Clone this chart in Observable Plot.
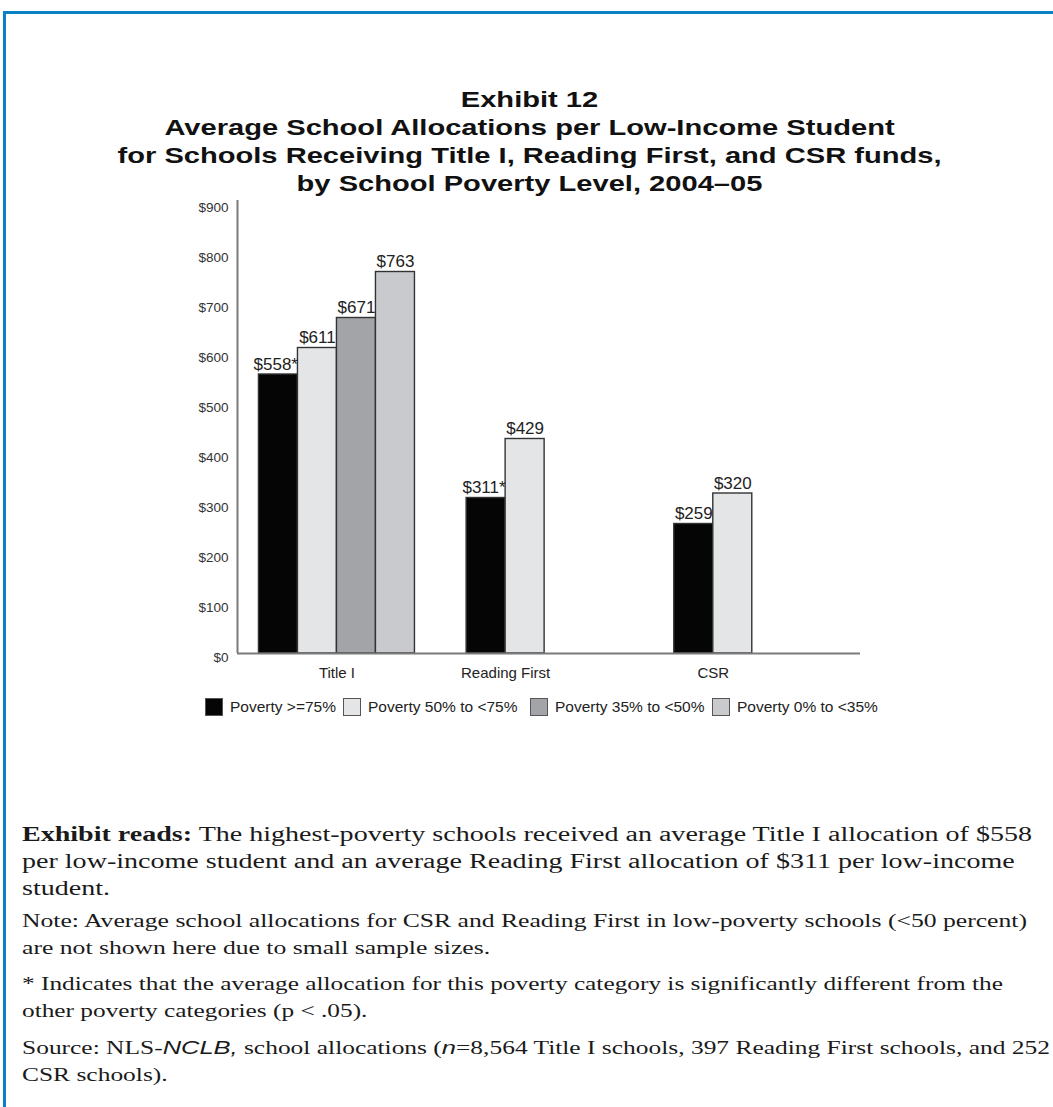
<!DOCTYPE html>
<html>
<head>
<meta charset="utf-8">
<script src="https://cdn.jsdelivr.net/npm/d3@7"></script>
<script src="https://cdn.jsdelivr.net/npm/@observablehq/plot@0.6"></script>
<style>
  html, body { margin: 0; padding: 0; background: #fff; }
  body { width: 1053px; height: 1107px; position: relative; overflow: hidden; font-family: "Liberation Sans", Arial, sans-serif; }
  #frame { position: absolute; left: 3px; top: 11px; right: 0; bottom: 0; border-top: 3px solid #0a80c6; border-left: 3px solid #0a80c6; }
  #title { position: absolute; left: 6px; width: 1047px; top: 86px; text-align: center; font-weight: bold; font-size: 22px; line-height: 28px; color: #111; }
  #title span { display: inline-block; white-space: nowrap; transform-origin: 50% 0; }
  #chart { position: absolute; left: 0; top: 180px; }
  #legend { position: absolute; top: 698px; left: 0; height: 18px; font-size: 15.5px; color: #222; }
  #legend .item { position: absolute; top: 0; display: flex; align-items: center; white-space: nowrap; height: 18px; }
  #legend .sw { width: 16px; height: 16px; border: 1px solid #555; margin-right: 7px; box-sizing: content-box; }
  .para { position: absolute; left: 22px; color: #1a1a1a; font-family: "Liberation Serif", "Times New Roman", serif; line-height: 27px; }
  .para span.inner { display: inline-block; white-space: nowrap; transform-origin: 0 0; }
  .sans-i { font-family: "Liberation Sans", Arial, sans-serif; font-style: italic; }
</style>
</head>
<body>
<div id="frame"></div>
<div id="title"><span id="titleInner">Exhibit 12<br>Average School Allocations per Low-Income Student<br>for Schools Receiving Title I, Reading First, and CSR funds,<br>by School Poverty Level, 2004–05</span></div>
<div id="chart"></div>
<div id="legend"></div>
<div class="para" id="p1" style="top:821px;font-size:20px;"><span class="inner"><b>Exhibit reads:</b> The highest-poverty schools received an average Title I allocation of $558<br>per low-income student and an average Reading First allocation of $311 per low-income<br>student.</span></div>
<div class="para" id="p2" style="top:908px;font-size:18.5px;"><span class="inner">Note: Average school allocations for CSR and Reading First in low-poverty schools (&lt;50 percent)<br>are not shown here due to small sample sizes.</span></div>
<div class="para" id="p3" style="top:971px;font-size:18.5px;"><span class="inner">* Indicates that the average allocation for this poverty category is significantly different from the<br>other poverty categories (p &lt; .05).</span></div>
<div class="para" id="p4" style="top:1034px;font-size:18.5px;"><span class="inner">Source: NLS-<span class="sans-i">NCLB,</span> school allocations (<span class="sans-i">n</span>=8,564 Title I schools, 397 Reading First schools, and 252<br>CSR schools).</span></div>
<script>
// ---- data ----
const programs = ["Title I", "Reading First", "CSR"];
const povertyLevels = ["Poverty >=75%", "Poverty 50% to <75%", "Poverty 35% to <50%", "Poverty 0% to <35%"];
const levelColors = ["#050505", "#e3e5e7", "#a2a4a7", "#c8cacd"];
const titleIValues = [558, 611, 671, 763];
const readingFirstValues = [311, 429, null, null];
const csrValues = [259, 320, null, null];
const significant = [[true, false, false, false], [true, false, false, false], [false, false, false, false]];
const yTicks = [0, 100, 200, 300, 400, 500, 600, 700, 800, 900];

// ---- layout (bar units) ----
const plotLeft = 237, plotRight = 860, barPx = 39;
const groupUnits = (plotRight - plotLeft) / 3 / barPx;
const groupOffset = 0.55;

const seriesByProgram = [titleIValues, readingFirstValues, csrValues];
const rows = [];
programs.forEach((p, g) => {
  seriesByProgram[g].forEach((v, s) => {
    if (v == null) return;
    const x1 = g * groupUnits + groupOffset + s;
    rows.push({program: p, level: povertyLevels[s], value: v, x1, x2: x1 + 1, xc: x1 + 0.5,
      star: significant[g][s], label: "$" + v + (significant[g][s] ? "*" : "")});
  });
});
const catLabels = programs.map(p => {
  const r = rows.filter(d => d.program === p);
  return {program: p, x: d3.mean(r, d => d.xc)};
});

const chart = Plot.plot({
  width: 1053,
  height: 503,
  marginLeft: plotLeft,
  marginRight: 1053 - plotRight,
  marginTop: 23,
  marginBottom: 30,
  style: {fontFamily: "'Liberation Sans', Arial, sans-serif", fontSize: "13.5px", background: "transparent", overflow: "visible"},
  x: {domain: [0, 3 * groupUnits], axis: null},
  y: {domain: [0, 900], axis: null},
  color: {domain: povertyLevels, range: levelColors},
  marks: [
    Plot.axisY({ticks: yTicks, tickFormat: d => "$" + d, tickSize: 0, tickPadding: 9, fontSize: 13.5, color: "#333", dy: 4, label: null}),
    Plot.rectY(rows, {x1: "x1", x2: "x2", y1: 0, y2: "value", fill: "level", stroke: "#333", strokeWidth: 1.4}),
    Plot.ruleX([0], {y1: 0, y2: 906, stroke: "#7a7a7a", strokeWidth: 2}),
    Plot.ruleY([0], {stroke: "#7a7a7a", strokeWidth: 2}),
    Plot.text(rows.filter(d => !d.star), {x: "xc", y: "value", text: "label", dy: -10, fontSize: 17, fill: "#222"}),
    Plot.text(rows.filter(d => d.star), {x: "x2", y: "value", text: "label", textAnchor: "end", dy: -10, fontSize: 17, fill: "#222"}),
    Plot.text(catLabels, {x: "x", y: 0, text: "program", dy: 20, fontSize: 15, fill: "#222"})
  ]
});
document.getElementById("chart").appendChild(chart);

// ---- legend ----
const legendLefts = [205, 343, 530, 712];
const legend = document.getElementById("legend");
povertyLevels.forEach((lv, i) => {
  const item = document.createElement("div");
  item.className = "item";
  item.style.left = legendLefts[i] + "px";
  const sw = document.createElement("div");
  sw.className = "sw";
  sw.style.background = levelColors[i];
  const t = document.createElement("span");
  t.textContent = lv;
  item.appendChild(sw); item.appendChild(t);
  legend.appendChild(item);
});

// ---- fit text widths to the reference ----
function fit(el, target) {
  const w = el.getBoundingClientRect().width;
  el.style.transform = "scaleX(" + (target / w) + ")";
}
fit(document.getElementById("titleInner"), 824);
fit(document.querySelector("#p1 .inner"), 1010);
fit(document.querySelector("#p2 .inner"), 1005);
fit(document.querySelector("#p3 .inner"), 981);
fit(document.querySelector("#p4 .inner"), 1028);
</script>
</body>
</html>
